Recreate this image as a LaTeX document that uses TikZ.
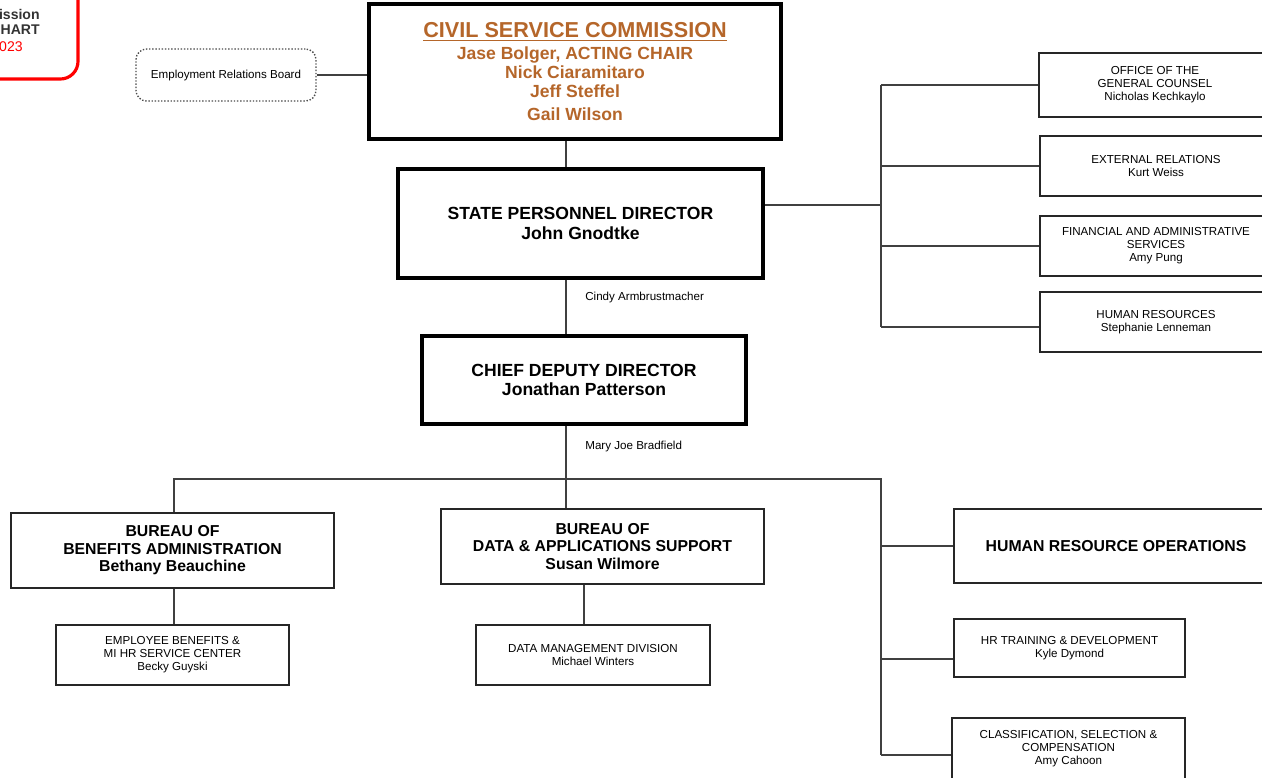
\documentclass[tikz,border=0pt]{standalone}
\usepackage{fontspec}
\setmainfont{Liberation Sans}
\usepackage{tikz}
\usetikzlibrary{positioning}
\definecolor{csctan}{HTML}{B5662A}

\begin{document}
\begin{tikzpicture}[
    x=0.02cm, y=-0.02cm,
    box/.style     = {draw=black!85, line width=0.8pt, inner sep=0pt, align=center,
                      font=\fontsize{6.6}{7.4}\selectfont},
    chief/.style   = {draw=black, line width=1.8pt, inner sep=0pt, align=center,
                      font=\fontsize{10}{11.3}\selectfont\bfseries},
    bureau/.style  = {box, font=\fontsize{9}{10}\selectfont\bfseries},
    aide/.style    = {inner sep=0pt, anchor=west, font=\fontsize{6.6}{7.4}\selectfont},
    link/.style    = {draw=black!75, line width=0.8pt}
  ]
  % page frame (the chart is cut at the edges)
  \clip (0,0) rectangle (1262,778);

  % title tag, top left (mostly off the page)
  \draw[red, line width=1.8pt, rounded corners=10pt] (-60,-60) rectangle (78,79);
  \node[inner sep=0pt, anchor=east, font=\fontsize{8}{9}\selectfont\bfseries, text=black!80] (tagA) at (40,14) {ission};
  \node[inner sep=0pt, anchor=east, font=\fontsize{8}{9}\selectfont\bfseries, text=black!80] (tagB) at (40,30) {HART};
  \node[inner sep=0pt, anchor=east, font=\fontsize{8}{9}\selectfont, text=red] (tagC) at (23,47) {023};

  % commission and directors
  \node[chief, minimum width=8.24cm, minimum height=2.7cm, text=csctan] (comm) at (575,71.5)
    {{\fontsize{12.3}{12.5}\selectfont\underline{CIVIL SERVICE COMMISSION}}\\[1pt]
     Jase Bolger, ACTING CHAIR\\[-0.5pt] Nick Ciaramitaro\\[-0.5pt] Jeff Steffel\\[2pt] Gail Wilson};
  \node[box, draw=black!70, densely dotted, rounded corners=6pt, minimum width=3.6cm, minimum height=1.04cm] (erb) at (226,75)
    {Employment Relations Board};
  \node[chief, minimum width=7.3cm, minimum height=2.18cm] (spd) at (580.5,223.5)
    {STATE PERSONNEL DIRECTOR\\ John Gnodtke};
  \node[chief, minimum width=6.48cm, minimum height=1.76cm] (cdd) at (584,380)
    {CHIEF DEPUTY DIRECTOR\\ Jonathan Patterson};
  \node[aide] (cindy) at (585,297) {Cindy Armbrustmacher};
  \node[aide] (mary) at (585,446) {Mary Joe Bradfield};

  % staff offices on the right
  \node[box, minimum width=4.64cm, minimum height=1.28cm] (ogc) at (1155,85)
    {OFFICE OF THE\\ GENERAL COUNSEL\\ Nicholas Kechkaylo};
  \node[box, minimum width=4.64cm, minimum height=1.2cm] (ext) at (1156,166)
    {EXTERNAL RELATIONS\\ Kurt Weiss};
  \node[box, minimum width=4.64cm, minimum height=1.2cm] (fas) at (1156,246)
    {FINANCIAL AND ADMINISTRATIVE\\ SERVICES\\ Amy Pung};
  \node[box, minimum width=4.64cm, minimum height=1.2cm] (hr) at (1156,322)
    {HUMAN RESOURCES\\ Stephanie Lenneman};

  % bureaus
  \node[bureau, minimum width=6.46cm, minimum height=1.5cm] (bba) at (172.5,550.5)
    {BUREAU OF\\ BENEFITS ADMINISTRATION\\ Bethany Beauchine};
  \node[box, minimum width=4.66cm, minimum height=1.2cm] (ebc) at (172.5,655)
    {EMPLOYEE BENEFITS \&\\ MI HR SERVICE CENTER\\ Becky Guyski};
  \node[bureau, minimum width=6.46cm, minimum height=1.5cm] (bdas) at (602.5,546.5)
    {BUREAU OF\\ DATA \& APPLICATIONS SUPPORT\\ Susan Wilmore};
  \node[box, minimum width=4.68cm, minimum height=1.2cm] (dmd) at (593,655)
    {DATA MANAGEMENT DIVISION\\ Michael Winters};
  \node[bureau, minimum width=6.48cm, minimum height=1.48cm] (hro) at (1116,546)
    {HUMAN RESOURCE OPERATIONS};
  \node[box, minimum width=4.62cm, minimum height=1.16cm] (hrtd) at (1069.5,648)
    {HR TRAINING \& DEVELOPMENT\\ Kyle Dymond};
  \node[box, minimum width=4.66cm, minimum height=1.24cm] (csc) at (1068.5,749)
    {CLASSIFICATION, SELECTION \&\\ COMPENSATION\\ Amy Cahoon};

  % connector lines
  \coordinate (spine) at (566,0);
  \coordinate (rbus) at (881,0);
  \coordinate (lbus) at (174,0);
  \coordinate (dbus) at (584,0);
  \coordinate (fork) at (881,479);
  \coordinate (spdout) at ([yshift=0.37cm]spd.east);

  \draw[link] (erb.east) -- (erb.east -| comm.west);
  \draw[link] (comm.south -| spine) -- (spd.north -| spine);
  \draw[link] (spd.south -| spine) -- (cdd.north -| spine);
  \draw[link] (spdout) -- (spdout -| rbus);
  \draw[link] (rbus |- ogc.west) -- ([yshift=-0.1cm]hr.west -| rbus);
  \foreach \b in {ogc,ext,fas} \draw[link] (rbus |- \b.west) -- (\b.west);
  \draw[link] ([yshift=-0.1cm]hr.west -| rbus) -- ([yshift=-0.1cm]hr.west);

  \draw[link] (cdd.south -| spine) -- (bdas.north -| spine);
  \draw[link] (bba.north -| lbus) |- (fork) -- ([yshift=-0.12cm]csc.west -| fork);
  \draw[link] (hro.west -| fork) -- (hro.west);
  \draw[link] ([yshift=-0.22cm]hrtd.west -| fork) -- ([yshift=-0.22cm]hrtd.west);
  \draw[link] ([yshift=-0.12cm]csc.west -| fork) -- ([yshift=-0.12cm]csc.west);
  \draw[link] (bba.south -| lbus) -- (ebc.north -| lbus);
  \draw[link] (bdas.south -| dbus) -- (dmd.north -| dbus);
\end{tikzpicture}
\end{document}
